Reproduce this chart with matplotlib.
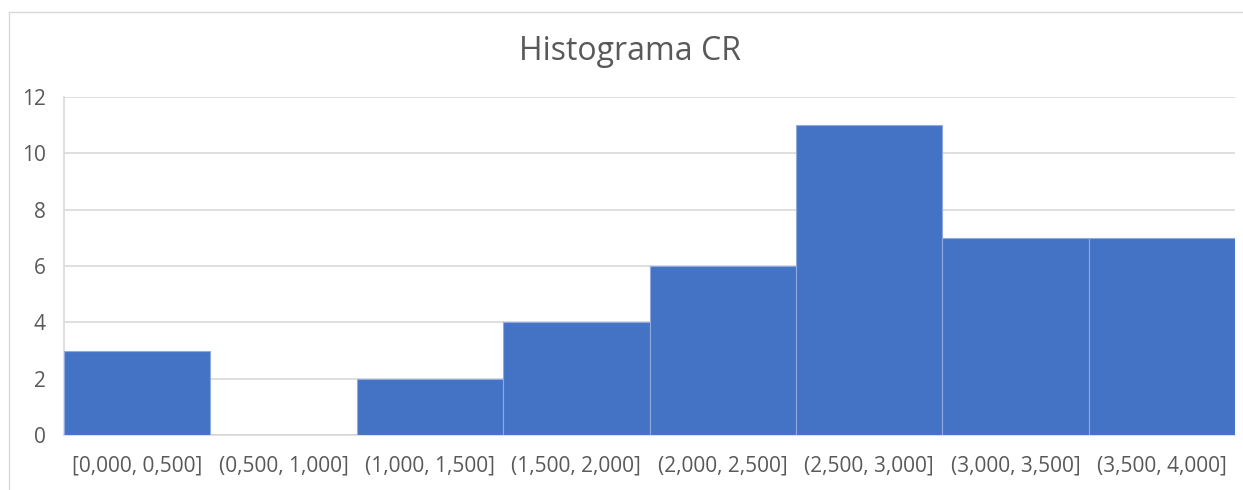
import matplotlib.pyplot as plt
from matplotlib.lines import Line2D

# data
bins = ['[0,000, 0,500]', '(0,500, 1,000]', '(1,000, 1,500]', '(1,500, 2,000]',
        '(2,000, 2,500]', '(2,500, 3,000]', '(3,000, 3,500]', '(3,500, 4,000]']
counts = [3, 0, 2, 4, 6, 11, 7, 7]
yticks = [0, 2, 4, 6, 8, 10, 12]

plt.rcParams['font.family'] = ['Open Sans', 'DejaVu Sans']

fig = plt.figure(figsize=(12.43, 4.9), dpi=100)
ax = fig.add_axes([64 / 1243, 55 / 490, 1171 / 1243, 338 / 490])

x = range(len(bins))
ax.bar(x, counts, width=1.0, color='#4472C4', edgecolor='#8FAADC', linewidth=0.8, zorder=3)

ax.set_xlim(-0.5, len(bins) - 0.5)
ax.set_ylim(0, 12)
ax.set_yticks(yticks)
ax.set_xticks(list(x))
ax.set_xticklabels(bins)
ax.tick_params(axis='both', length=0, labelsize=15, colors='#595959')
ax.tick_params(axis='x', pad=15)
ax.tick_params(axis='y', pad=13)
ax.grid(axis='y', color='#D9D9D9', linewidth=1.2, zorder=0)
for s in ['top', 'right']:
    ax.spines[s].set_visible(False)
for s in ['left', 'bottom']:
    ax.spines[s].set_color('#D9D9D9')
    ax.spines[s].set_linewidth(1.2)

fig.text(630 / 1243, 1 - 52 / 490, 'Histograma CR', ha='center', va='center',
         fontsize=23, color='#595959')

# outer chart frame
fig.add_artist(Line2D([8.5 / 1243, 8.5 / 1243], [0, 1 - 12.5 / 490], transform=fig.transFigure,
                      color='#D9D9D9', linewidth=1))
fig.add_artist(Line2D([8.5 / 1243, 1], [1 - 12.5 / 490, 1 - 12.5 / 490], transform=fig.transFigure,
                      color='#D9D9D9', linewidth=1))

fig.savefig('out.png', dpi=100)
